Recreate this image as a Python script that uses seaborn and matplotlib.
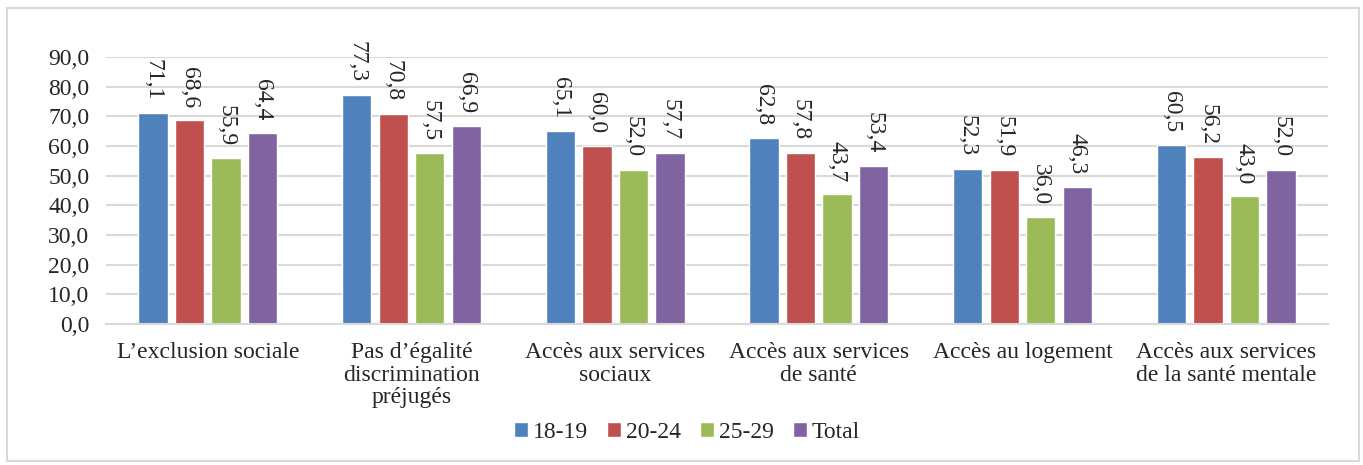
import pandas as pd
import seaborn as sns
import matplotlib.pyplot as plt
from matplotlib.patches import Rectangle
from matplotlib.ticker import FuncFormatter

categories = ["L’exclusion sociale", "Pas d’égalité\ndiscrimination\npréjugés",
              "Accès aux services\nsociaux", "Accès aux services\nde santé",
              "Accès au logement", "Accès aux services\nde la santé mentale"]
groups = ["18-19", "20-24", "25-29", "Total"]
v_18_19 = [71.1, 77.3, 65.1, 62.8, 52.3, 60.5]
v_20_24 = [68.6, 70.8, 60.0, 57.8, 51.9, 56.2]
v_25_29 = [55.9, 57.5, 52.0, 43.7, 36.0, 43.0]
v_total = [64.4, 66.9, 57.7, 53.4, 46.3, 52.0]
colors = ["#4F81BD", "#C0504D", "#9BBB59", "#8064A2"]

rows = []
for g, vals in zip(groups, [v_18_19, v_20_24, v_25_29, v_total]):
    for c, v in zip(categories, vals):
        rows.append({"cat": c, "group": g, "value": v})
df = pd.DataFrame(rows)

sns.set_style("white")
plt.rcParams['font.family'] = ['Liberation Serif', 'DejaVu Serif']
fs = 17

fig = plt.figure(figsize=(13.63, 4.65), dpi=100)
ax = fig.add_axes([106/1363, 1-324/465, (1328-106)/1363, (324-57)/465])

sns.barplot(data=df, x="cat", y="value", hue="group", order=categories,
            hue_order=groups, palette=colors, width=0.72, gap=0.2, ax=ax,
            saturation=1, errorbar=None)

# étiquettes de données verticales
for cont in ax.containers:
    labs = [f"{b.get_height():.1f}".replace('.', ',') for b in cont]
    ax.bar_label(cont, labels=labs, rotation=-90, padding=9, fontsize=fs, clip_on=False)

ax.set_ylim(0, 90)
ax.set_yticks(range(0, 91, 10))
ax.yaxis.set_major_formatter(FuncFormatter(lambda v, p: f"{v:.1f}".replace('.', ',')))
ax.grid(axis='y', color='#d9d9d9', linewidth=1.5)
ax.set_axisbelow(True)
for s in ['left', 'right', 'top']:
    ax.spines[s].set_visible(False)
ax.spines['bottom'].set_color('#d9d9d9')
ax.spines['bottom'].set_linewidth(1.5)
ax.tick_params(axis='both', length=0, labelsize=fs)
ax.tick_params(axis='x', pad=13)
ax.tick_params(axis='y', pad=12)
for t in ax.get_xticklabels():
    t.set_linespacing(1.1)
ax.set_xlabel("")
ax.set_ylabel("")

ax.legend(loc='center', bbox_to_anchor=(687/1363, 1-432/465), bbox_transform=fig.transFigure,
          ncol=4, frameon=False, fontsize=fs, handlelength=0.6, handleheight=0.6,
          handletextpad=0.2, columnspacing=0.8)

fig.patches.append(Rectangle((7/1363, 1-461/465), 1352/1363, 453/465, transform=fig.transFigure,
                             fill=False, edgecolor='#d9d9d9', linewidth=1.5))

fig.savefig("out.png", dpi=100)
